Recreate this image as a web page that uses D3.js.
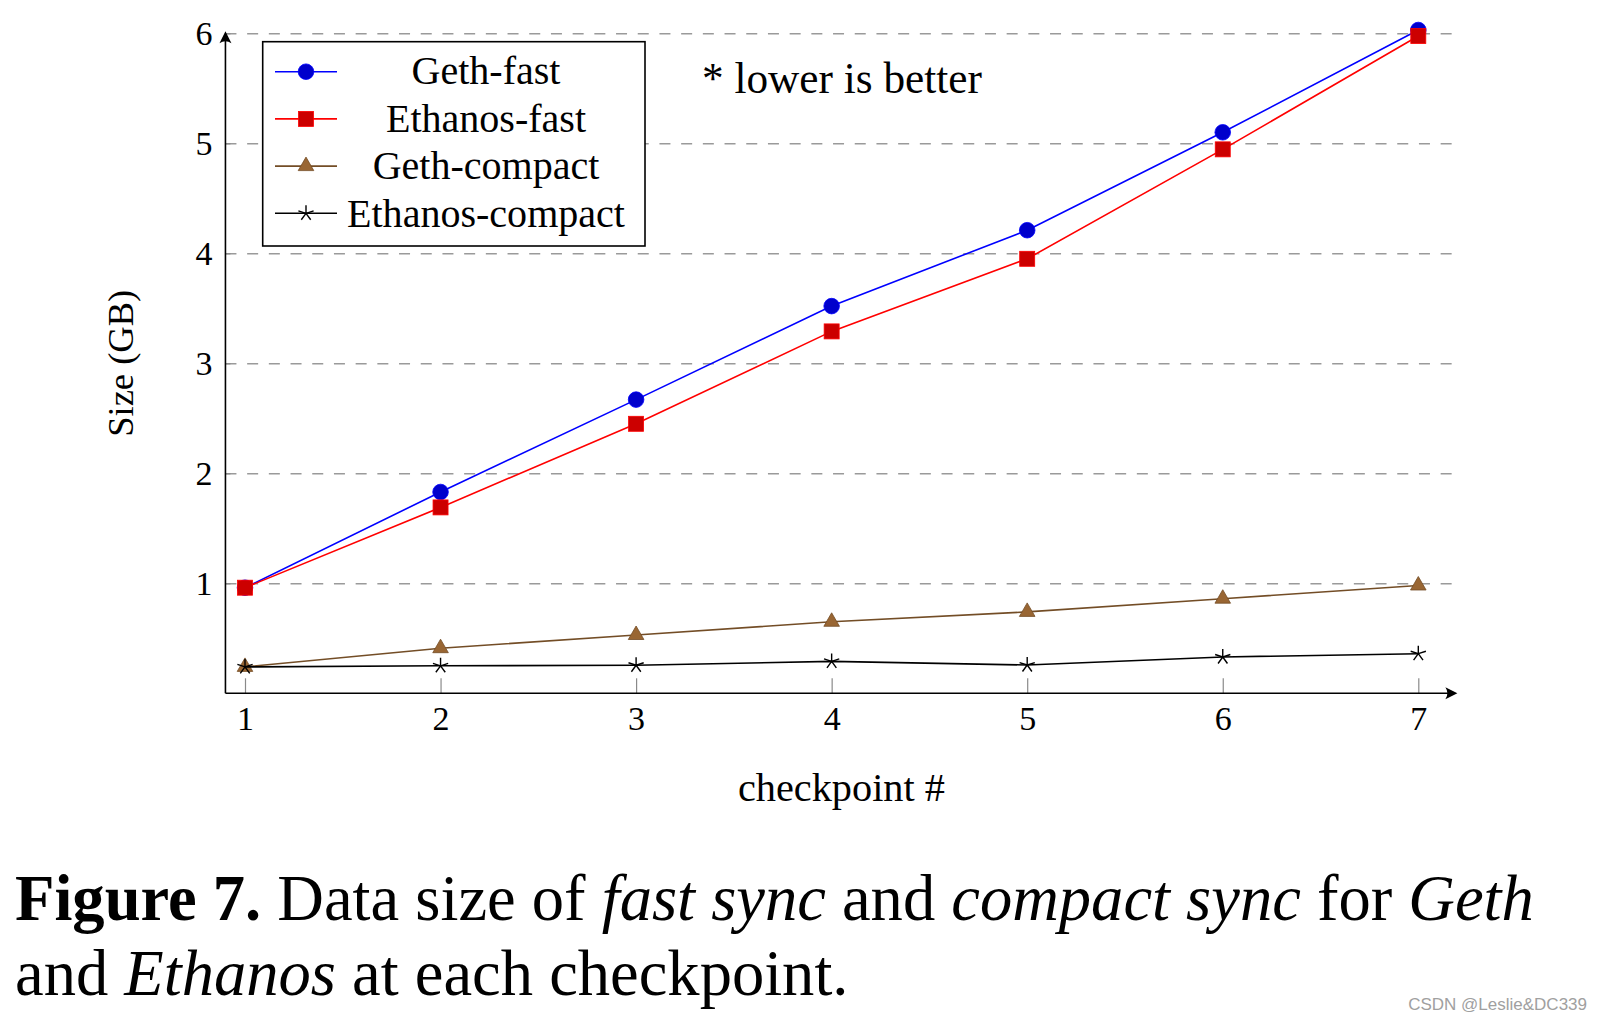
<!DOCTYPE html>
<html>
<head>
<meta charset="utf-8">
<script src="https://cdn.jsdelivr.net/npm/d3@7/dist/d3.min.js"></script>
<style>
  body { margin: 0; background: #fff; }
  text { font-family: 'Liberation Serif', 'DejaVu Serif', serif; fill: #000; }
</style>
</head>
<body>
<div id="chart"></div>
<script>
// data
let checkpoints = [1, 2, 3, 4, 5, 6, 7]
let gethFast = [0.96, 1.83, 2.67, 3.52, 4.21, 5.10, 6.03]
let ethanosFast = [0.96, 1.69, 2.45, 3.29, 3.95, 4.945, 5.975]
let gethCompact = [0.24, 0.41, 0.53, 0.65, 0.74, 0.86, 0.98]
let ethanosCompact = [0.24, 0.25, 0.255, 0.29, 0.257, 0.33, 0.36]
let seriesNames = ['Geth-fast', 'Ethanos-fast', 'Geth-compact', 'Ethanos-compact']
let yTicks = [1, 2, 3, 4, 5, 6]

let width = 1600
let height = 1020

let svg = d3
  .select('#chart')
  .append('svg')
  .attr('width', width)
  .attr('height', height)

let x = d3.scaleLinear().domain([1, 7]).range([245, 1418.3])
let y = d3.scaleLinear().domain([0, 6]).range([693.3, 33.3])

let x0 = x(0.9)
let x1 = x(7.2)

// shrink / grow a text until it spans the wanted width
function fit(sel, w) {
  let fs = parseFloat(sel.attr('font-size'))
  let cur = sel.node().getComputedTextLength()
  sel.attr('font-size', fs * w / cur)
}

let series = [
  { name: seriesNames[0], values: gethFast, line: '#0000ff', fill: '#0000cc', mark: 'circle' },
  { name: seriesNames[1], values: ethanosFast, line: '#ff0000', fill: '#cc0000', mark: 'square' },
  { name: seriesNames[2], values: gethCompact, line: '#734d26', fill: '#996633', mark: 'triangle' },
  { name: seriesNames[3], values: ethanosCompact, line: '#000000', fill: '#000000', mark: 'star' }
]

// grid
svg.append('g')
  .attr('class', 'grid')
  .attr('transform', 'translate(' + x0 + ',0)')
  .call(d3.axisLeft(y).tickValues(yTicks).tickSize(-(x1 - x0)).tickFormat(''))
  .call(g => g.select('.domain').remove())
  .call(g => g.selectAll('line')
    .attr('stroke', '#9a9a9a')
    .attr('stroke-width', 1.6)
    .attr('stroke-dasharray', '11 10.7'))

// x axis ticks + labels
svg.append('g')
  .attr('transform', 'translate(0,' + y(0) + ')')
  .call(d3.axisBottom(x).tickValues(checkpoints).tickSize(-15).tickPadding(13).tickFormat(d3.format('d')))
  .call(g => g.select('.domain').remove())
  .call(g => g.selectAll('line').attr('stroke', '#8a8a8a').attr('stroke-width', 1.2))
  .call(g => g.selectAll('text')
    .attr('font-size', 34)
    .attr('fill', '#000')
    .style('font-family', "'Liberation Serif', serif"))

// y axis ticks + labels
svg.append('g')
  .attr('transform', 'translate(' + x0 + ',0)')
  .call(d3.axisLeft(y).tickValues(yTicks).tickSize(-5).tickPadding(13).tickFormat(d3.format('d')))
  .call(g => g.select('.domain').remove())
  .call(g => g.selectAll('line').attr('stroke', '#8a8a8a').attr('stroke-width', 1.2))
  .call(g => g.selectAll('text')
    .attr('font-size', 34)
    .attr('fill', '#000')
    .style('font-family', "'Liberation Serif', serif"))

// axis lines with arrow heads
let arrow = 'M0,0 L-12,-6 Q-8,0 -12,6 Z'
svg.append('line')
  .attr('x1', x0).attr('x2', x1 - 4)
  .attr('y1', y(0)).attr('y2', y(0))
  .attr('stroke', '#000').attr('stroke-width', 1.6)
svg.append('path')
  .attr('d', arrow)
  .attr('transform', 'translate(' + x1 + ',' + y(0) + ')')
  .attr('fill', '#000')
svg.append('line')
  .attr('x1', x0).attr('x2', x0)
  .attr('y1', y(0)).attr('y2', y(6) + 2)
  .attr('stroke', '#000').attr('stroke-width', 1.6)
svg.append('path')
  .attr('d', arrow)
  .attr('transform', 'translate(' + x0 + ',' + (y(6) - 2) + ') rotate(-90)')
  .attr('fill', '#000')

// markers
function drawMark(g, s, cx, cy) {
  if (s.mark === 'circle') {
    g.append('circle').attr('cx', cx).attr('cy', cy).attr('r', 7.8)
      .attr('fill', s.fill).attr('stroke', s.line).attr('stroke-width', 0.8)
  } else if (s.mark === 'square') {
    g.append('rect').attr('x', cx - 7.5).attr('y', cy - 7.5).attr('width', 15).attr('height', 15)
      .attr('fill', s.fill).attr('stroke', s.line).attr('stroke-width', 0.8)
  } else if (s.mark === 'triangle') {
    let r = 9
    let pts = [0, 1, 2].map(i => {
      let a = -Math.PI / 2 + i * 2 * Math.PI / 3
      return [cx + r * Math.cos(a), cy + r * Math.sin(a)]
    })
    g.append('path').attr('d', 'M' + pts.join('L') + 'Z')
      .attr('fill', s.fill).attr('stroke', s.line).attr('stroke-width', 0.8)
  } else {
    let r = 8
    let d = ''
    for (let i = 0; i < 5; i++) {
      let a = -Math.PI / 2 + i * 2 * Math.PI / 5
      d += 'M' + cx + ',' + cy + 'L' + (cx + r * Math.cos(a)) + ',' + (cy + r * Math.sin(a))
    }
    g.append('path').attr('d', d).attr('stroke', '#000').attr('stroke-width', 1.4).attr('fill', 'none')
  }
}

let line = d3.line()
  .x((d, i) => x(checkpoints[i]))
  .y(d => y(d))

series.forEach(s => {
  let g = svg.append('g')
  g.append('path')
    .datum(s.values)
    .attr('d', line)
    .attr('fill', 'none')
    .attr('stroke', s.line)
    .attr('stroke-width', 1.6)
  s.values.forEach((v, i) => drawMark(g, s, x(checkpoints[i]), y(v)))
})

// legend
let legend = svg.append('g')
legend.append('rect')
  .attr('x', 262.7).attr('y', 41.7)
  .attr('width', 382.3).attr('height', 204.3)
  .attr('fill', '#fff').attr('stroke', '#000').attr('stroke-width', 1.6)

let legendLabels = []
series.forEach((s, i) => {
  let by = 84 + i * 47.7
  let my = 71.7 + i * 47.2
  legend.append('line')
    .attr('x1', 275).attr('x2', 337)
    .attr('y1', my).attr('y2', my)
    .attr('stroke', s.line).attr('stroke-width', 1.6)
  drawMark(legend, s, 306, my)
  let t = legend.append('text')
    .attr('x', 486).attr('y', by)
    .attr('text-anchor', 'middle')
    .attr('font-size', 36)
    .text(s.name)
  legendLabels.push(t)
})
fit(legendLabels[3], 278)
legendLabels.forEach(t => t.attr('font-size', legendLabels[3].attr('font-size')))

let note = svg.append('text')
  .attr('x', 702).attr('y', 93)
  .attr('font-size', 36)
  .text('* lower is better')
fit(note, 280)

// axis titles
let xTitle = svg.append('text')
  .attr('x', (x0 + x1) / 2).attr('y', 801)
  .attr('text-anchor', 'middle')
  .attr('font-size', 36)
  .text('checkpoint #')
fit(xTitle, 207)

let yTitle = svg.append('text')
  .attr('transform', 'translate(133,' + (y(0) + y(6)) / 2 + ') rotate(-90)')
  .attr('text-anchor', 'middle')
  .attr('font-size', 36)
  .text('Size (GB)')
fit(yTitle, 147)

// caption
let cap1 = svg.append('text')
  .attr('x', 15).attr('y', 920)
  .attr('font-size', 58)
cap1.append('tspan').attr('font-weight', 'bold').text('Figure 7.')
cap1.append('tspan').text(' Data size of ')
cap1.append('tspan').attr('font-style', 'italic').text('fast sync')
cap1.append('tspan').text(' and ')
cap1.append('tspan').attr('font-style', 'italic').text('compact sync')
cap1.append('tspan').text(' for ')
cap1.append('tspan').attr('font-style', 'italic').text('Geth')
fit(cap1, 1519)

let cap2 = svg.append('text')
  .attr('x', 15).attr('y', 995)
  .attr('font-size', cap1.attr('font-size'))
cap2.append('tspan').text('and ')
cap2.append('tspan').attr('font-style', 'italic').text('Ethanos')
cap2.append('tspan').text(' at each checkpoint.')

// watermark
svg.append('text')
  .attr('x', 1587).attr('y', 1010)
  .attr('text-anchor', 'end')
  .attr('font-size', 17)
  .style('font-family', "'Liberation Sans', sans-serif")
  .style('fill', '#a0a0a0')
  .text('CSDN @Leslie&DC339')
</script>
</body>
</html>
